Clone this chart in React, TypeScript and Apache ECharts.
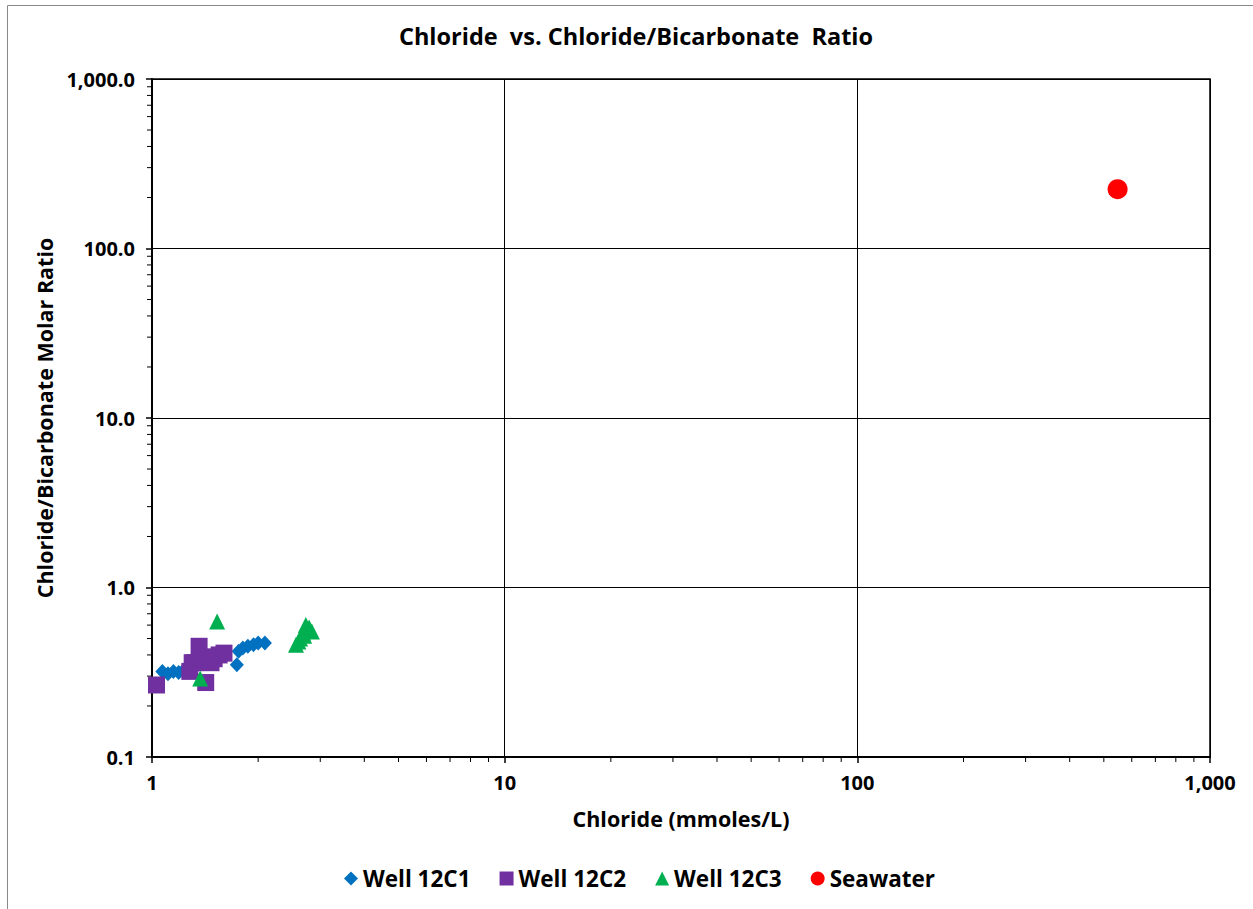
import React, { useEffect, useRef } from "react";
import * as echarts from "echarts";

const TITLE = "Chloride  vs. Chloride/Bicarbonate  Ratio";
const X_NAME = "Chloride (mmoles/L)";
const Y_NAME = "Chloride/Bicarbonate Molar Ratio";

const well12C1: [number, number][] = [
  [1.07, 0.32], [1.11, 0.31], [1.15, 0.32], [1.19, 0.315], [1.24, 0.33],
  [1.45, 0.37], [1.55, 0.40], [1.74, 0.35], [1.76, 0.42], [1.81, 0.44],
  [1.87, 0.45], [1.94, 0.46], [2.0, 0.47], [2.09, 0.47],
];
const well12C2: [number, number][] = [
  [1.03, 0.266], [1.28, 0.32], [1.30, 0.36], [1.32, 0.36], [1.36, 0.45],
  [1.38, 0.38], [1.42, 0.275], [1.43, 0.39], [1.47, 0.36], [1.50, 0.38],
  [1.55, 0.40], [1.60, 0.41],
];
const well12C3: [number, number][] = [
  [1.37, 0.29], [1.53, 0.63], [2.56, 0.46], [2.60, 0.48], [2.63, 0.50],
  [2.68, 0.54], [2.70, 0.52], [2.73, 0.60], [2.75, 0.56], [2.79, 0.58],
  [2.84, 0.55],
];
const seawater: [number, number][] = [[547, 224]];

const X_MIN = 1, X_MAX = 1000, Y_MIN = 0.1, Y_MAX = 1000;
const FONT = "'Open Sans', 'Liberation Sans', sans-serif";

export default function App() {
  const ref = useRef<HTMLDivElement>(null);
  useEffect(() => {
    if (!ref.current) return;
    const chart = echarts.init(ref.current, undefined, { renderer: "svg" });
    const grid = { left: 152, top: 79, width: 1058, height: 678 };
    chart.setOption({
      animation: false,
      backgroundColor: "#fff",
      textStyle: { fontFamily: FONT },
      title: {
        text: TITLE,
        left: 631,
        top: 19,
        textAlign: "center",
        textStyle: { fontSize: 23.5, fontWeight: "bold", color: "#000", fontFamily: FONT },
      },
      grid: { ...grid, show: true, borderColor: "#000", borderWidth: 1.5, backgroundColor: "transparent" },
      legend: {
        left: 339,
        top: 862,
        itemWidth: 14,
        itemHeight: 14,
        itemGap: 29,
        textStyle: { fontSize: 22.5, fontWeight: "bold", color: "#000", fontFamily: FONT },
        data: [
          { name: "Well 12C1", icon: "diamond" },
          { name: "Well 12C2", icon: "rect" },
          { name: "Well 12C3", icon: "triangle" },
          { name: "Seawater", icon: "circle" },
        ],
      },
      xAxis: {
        type: "log",
        logBase: 10,
        min: X_MIN,
        max: X_MAX,
        name: X_NAME,
        nameLocation: "middle",
        nameGap: 50,
        nameTextStyle: { fontSize: 21.5, fontWeight: "bold", color: "#000", fontFamily: FONT },
        axisLine: { show: true, onZero: false, lineStyle: { color: "#000", width: 2 } },
        axisTick: { show: true, length: 6, lineStyle: { color: "#000", width: 1.5 } },
        splitLine: { show: true, lineStyle: { color: "#000", width: 1 } },
        axisLabel: {
          margin: 15,
          fontSize: 20,
          fontWeight: "bold",
          color: "#000",
          fontFamily: FONT,
          formatter: (v: number) => Math.round(v).toLocaleString("en-US"),
        },
      },
      yAxis: {
        type: "log",
        logBase: 10,
        min: Y_MIN,
        max: Y_MAX,
        name: Y_NAME,
        nameLocation: "middle",
        nameGap: 95,
        nameTextStyle: { fontSize: 21.5, fontWeight: "bold", color: "#000", fontFamily: FONT },
        axisLine: { show: true, onZero: false, lineStyle: { color: "#000", width: 2 } },
        axisTick: { show: true, length: 6, lineStyle: { color: "#000", width: 1.5 } },
        splitLine: { show: true, lineStyle: { color: "#000", width: 1 } },
        axisLabel: {
          margin: 17,
          fontSize: 20,
          fontWeight: "bold",
          color: "#000",
          fontFamily: FONT,
          formatter: (v: number) =>
            Number(v).toLocaleString("en-US", { minimumFractionDigits: 1, maximumFractionDigits: 1 }),
        },
      },
      series: [
        { name: "Well 12C1", type: "scatter", symbol: "diamond", symbolSize: [14, 15], itemStyle: { color: "#0070C0", opacity: 1 }, data: well12C1 },
        { name: "Well 12C2", type: "scatter", symbol: "rect", symbolSize: 17, itemStyle: { color: "#7030A0", opacity: 1 }, data: well12C2 },
        { name: "Well 12C3", type: "scatter", symbol: "triangle", symbolSize: 16, itemStyle: { color: "#00B050", opacity: 1 }, data: well12C3 },
        { name: "Seawater", type: "scatter", symbol: "circle", symbolSize: 20, itemStyle: { color: "#FF0000", opacity: 1 }, data: seawater },
      ],
    });

    // log-scale minor ticks
    const graphics: any[] = [
      {
        type: "rect",
        shape: { x: 7.5, y: 5.5, width: 1300, height: 1000 },
        style: { fill: "none", stroke: "#888", lineWidth: 1 },
        silent: true,
        z: 0,
      },
    ];
    const minorVals = (lo: number, hi: number) => {
      const out: number[] = [];
      for (let d = lo; d < hi; d *= 10) {
        for (let k = 2; k <= 9; k++) out.push(d * k);
      }
      return out;
    };
    const yBottom = grid.top + grid.height;
    minorVals(X_MIN, X_MAX).forEach((v) => {
      const p = chart.convertToPixel({ gridIndex: 0 }, [v, Y_MIN]) as number[];
      graphics.push({ type: "line", shape: { x1: p[0], y1: yBottom, x2: p[0], y2: yBottom + 5 }, style: { stroke: "#000", lineWidth: 1 }, silent: true });
    });
    minorVals(Y_MIN, Y_MAX).forEach((v) => {
      const p = chart.convertToPixel({ gridIndex: 0 }, [X_MIN, v]) as number[];
      graphics.push({ type: "line", shape: { x1: grid.left - 5, y1: p[1], x2: grid.left, y2: p[1] }, style: { stroke: "#000", lineWidth: 1 }, silent: true });
    });
    chart.setOption({ graphic: graphics });

    return () => chart.dispose();
  }, []);
  return (
    <div
      ref={ref}
      style={{ position: "fixed", left: 0, top: 0, width: 1253, height: 909 }}
    />
  );
}
